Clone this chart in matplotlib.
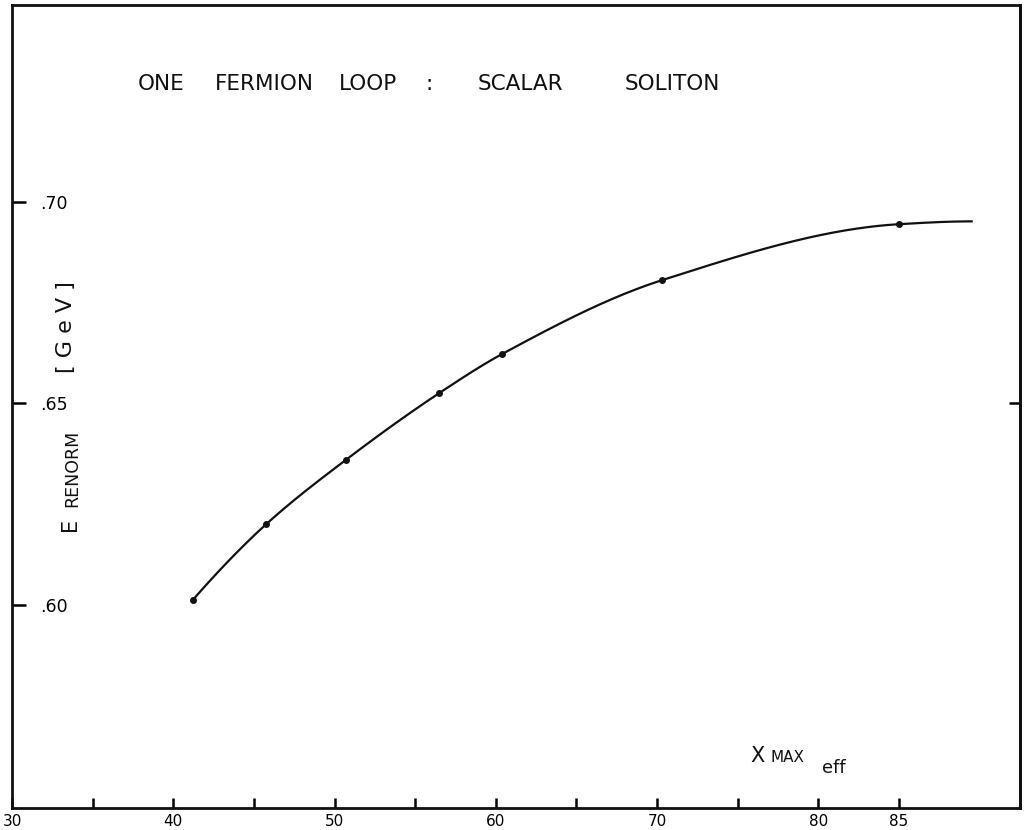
import matplotlib
matplotlib.use("Agg")
import matplotlib.pyplot as plt
import numpy as np

# measured points (X_MAX eff, E renorm in GeV)
x_max = [41.2, 45.75, 50.7, 56.5, 60.4, 70.3, 85.0]
e_renorm = [0.6012, 0.6200, 0.6360, 0.6526, 0.6623, 0.6806, 0.6945]
# hand drawn curve runs a bit past the last point
curve_end_x = 89.5
curve_end_e = 0.6952

x_major = [30, 40, 50, 60, 70, 80, 85]
x_major_labels = ["30", "40", "50", "60", "70", "80", "85"]
x_minor = [35, 45, 55, 65, 75]
y_ticks = [0.60, 0.65, 0.70]
y_tick_labels = [".60", ".65", ".70"]

title_words = ["ONE", "FERMION", "LOOP", ":", "SCALAR", "SOLITON"]


def pchip(xs, ys, xq):
    # monotone cubic through the points, used only to draw the smooth line
    xs = np.asarray(xs, float)
    ys = np.asarray(ys, float)
    h = np.diff(xs)
    delta = np.diff(ys) / h
    n = len(xs)
    d = np.zeros(n)
    for k in range(1, n - 1):
        if delta[k - 1] * delta[k] > 0:
            w1 = 2 * h[k] + h[k - 1]
            w2 = h[k] + 2 * h[k - 1]
            d[k] = (w1 + w2) / (w1 / delta[k - 1] + w2 / delta[k])
    d[0] = ((2 * h[0] + h[1]) * delta[0] - h[0] * delta[1]) / (h[0] + h[1])
    if d[0] * delta[0] <= 0:
        d[0] = 0
    d[-1] = ((2 * h[-1] + h[-2]) * delta[-1] - h[-1] * delta[-2]) / (h[-1] + h[-2])
    if d[-1] * delta[-1] <= 0:
        d[-1] = 0
    out = np.empty_like(xq)
    idx = np.clip(np.searchsorted(xs, xq) - 1, 0, n - 2)
    for j, (q, i) in enumerate(zip(xq, idx)):
        t = (q - xs[i]) / h[i]
        h00 = 2 * t**3 - 3 * t**2 + 1
        h10 = t**3 - 2 * t**2 + t
        h01 = -2 * t**3 + 3 * t**2
        h11 = t**3 - t**2
        out[j] = h00 * ys[i] + h10 * h[i] * d[i] + h01 * ys[i + 1] + h11 * h[i] * d[i + 1]
    return out


W, H = 1029, 830
ink = "#111111"
fig = plt.figure(figsize=(W / 100, H / 100), dpi=100)
ax = fig.add_axes([12 / W, 22 / H, 1008 / W, 803 / H])

ax.set_xlim(30, 92.5)
ax.set_ylim(0.5496, 0.7489)

cx = x_max + [curve_end_x]
cy = e_renorm + [curve_end_e]
xs = np.linspace(cx[0], cx[-1], 400)
ax.plot(xs, pchip(cx, cy, xs), color=ink, lw=1.6)
ax.plot(x_max, e_renorm, "o", color=ink, ms=4)

for s in ax.spines.values():
    s.set_linewidth(2)
    s.set_color(ink)

ax.set_xticks(x_major)
ax.set_xticklabels(x_major_labels, fontsize=11)
ax.set_xticks(x_minor, minor=True)
ax.tick_params(axis="x", which="both", direction="in", length=7, width=1.8, pad=4, top=False)

ax.set_yticks(y_ticks)
ax.set_yticklabels(y_tick_labels, fontsize=12.5)
ax.tick_params(axis="y", direction="in", length=10, width=1.8, pad=-20)
for lbl in ax.get_yticklabels():
    lbl.set_horizontalalignment("left")

sec = ax.secondary_yaxis("right")
sec.set_yticks([y_ticks[1]])
sec.set_yticklabels([])
sec.tick_params(direction="in", length=8, width=1.8)
sec.spines["right"].set_linewidth(2)

# title, hand lettered in the original with wide word gaps (word centres)
for word, centre in zip(title_words, [161, 264, 368, 429, 520, 672]):
    fig.text(centre / W, 1 - 84 / H, word, fontsize=15.5, ha="center", va="center", color=ink)

fig.text(70 / W, 1 - 524 / H, "E", fontsize=15, rotation=90,
         ha="center", va="center", color=ink)
fig.text(72 / W, 1 - 468 / H, "RENORM", fontsize=12.5, rotation=90,
         ha="center", va="center", color=ink)
fig.text(66 / W, 1 - 327 / H, "[ G e V ]", fontsize=16, rotation=90,
         ha="center", va="center", color=ink)

fig.text(750 / W, 1 - 762 / H, "X", fontsize=15, ha="left", va="baseline", color=ink)
fig.text(771 / W, 1 - 762 / H, "MAX", fontsize=11, ha="left", va="baseline", color=ink)
fig.text(822 / W, 1 - 773 / H, "eff", fontsize=13, ha="left", va="baseline", color=ink)

fig.savefig("out.png", dpi=100, facecolor="white")
